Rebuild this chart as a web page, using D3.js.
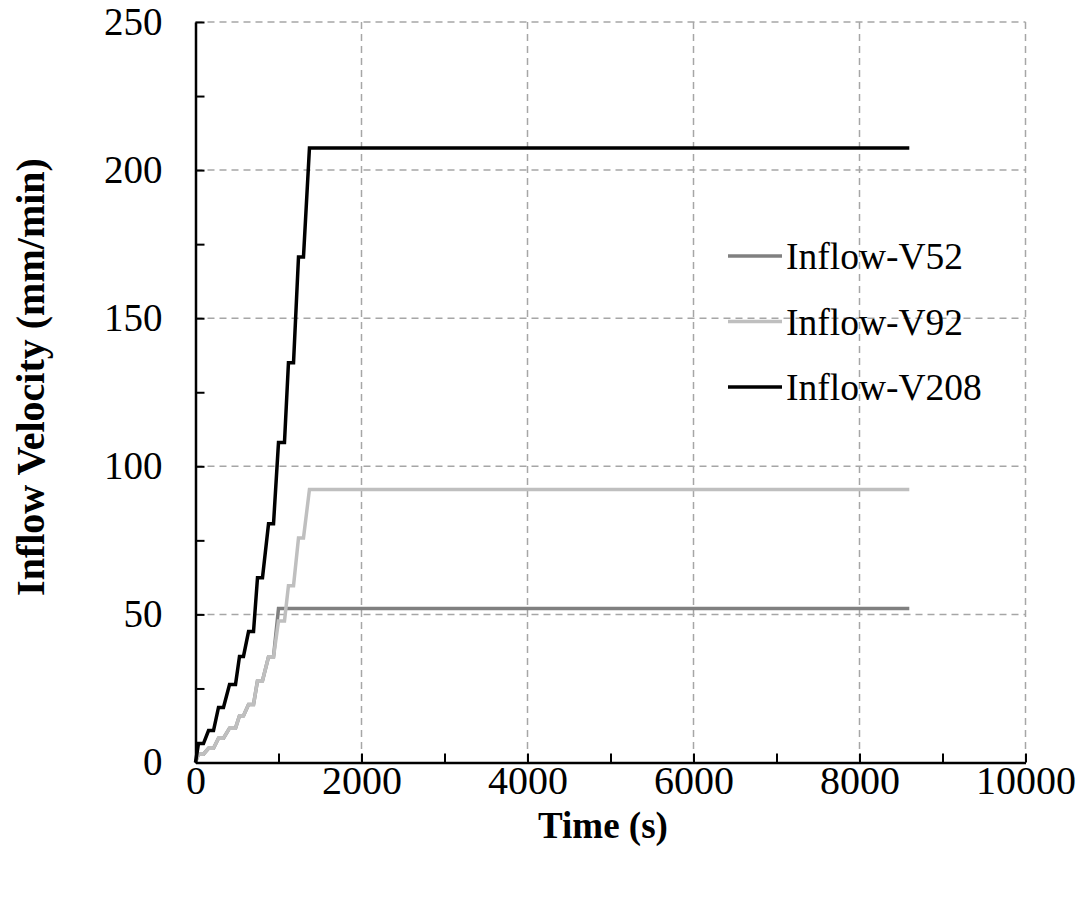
<!DOCTYPE html>
<html><head><meta charset="utf-8">
<script src="https://cdn.jsdelivr.net/npm/d3@7"></script>
<style>body{margin:0;background:#fff}svg text{font-family:"Liberation Serif","Times New Roman",serif}</style>
</head><body>
<svg id="chart" width="1081" height="905"></svg>
<script>
// Data (time in s, velocity in mm/min)
const timeV208 = [0, 36, 96, 157, 217, 277, 337, 410, 482, 530, 578, 639, 699, 747, 807, 880, 940, 1000, 1072, 1120, 1181, 1241, 1301, 1373, 8600];
const valV208  = [0, 6.4, 6.4, 10.8, 10.8, 18.6, 18.6, 26.3, 26.3, 35.8, 35.8, 44.2, 44.2, 62.4, 62.4, 80.6, 80.6, 108, 108, 135, 135, 170.7, 170.7, 207.5, 207.5];
const timeV92  = [0, 36, 96, 157, 217, 277, 337, 410, 482, 530, 578, 639, 699, 747, 807, 880, 940, 1000, 1072, 1120, 1181, 1241, 1301, 1373, 8600];
const valV92   = [0, 2.8, 2.8, 4.8, 4.8, 8.2, 8.2, 11.6, 11.6, 15.8, 15.8, 19.6, 19.6, 27.6, 27.6, 35.7, 35.7, 47.8, 47.8, 59.7, 59.7, 75.8, 75.8, 92.2, 92.2];
const timeV52  = [0, 36, 96, 157, 217, 277, 337, 410, 482, 530, 578, 639, 699, 747, 807, 880, 940, 1000, 8600];
const valV52   = [0, 2.8, 2.8, 4.8, 4.8, 8.2, 8.2, 11.6, 11.6, 15.8, 15.8, 19.6, 19.6, 27.6, 27.6, 35.7, 35.7, 52, 52];
const seriesNames = ["Inflow-V52", "Inflow-V92", "Inflow-V208"];
const xTicks = [0, 2000, 4000, 6000, 8000, 10000];
const yTicks = [0, 50, 100, 150, 200, 250];

const series = [
  {name: seriesNames[0], t: timeV52, v: valV52, color: "#808080"},
  {name: seriesNames[1], t: timeV92, v: valV92, color: "#bfbfbf"},
  {name: seriesNames[2], t: timeV208, v: valV208, color: "#000000"}
];

const FONT = "Liberation Serif";
const svg = d3.select("#chart");
const L = 195.5, T = 22, R = 1025.5, B = 762.5;
const x = d3.scaleLinear().domain([0, 10000]).range([L, R]);
const y = d3.scaleLinear().domain([0, 250]).range([B, T]);

// grid
const grid = svg.append("g").attr("stroke", "#a6a6a6").attr("stroke-width", 1.5).attr("stroke-dasharray", "7,5");
grid.selectAll("line.h").data(yTicks.filter(d => d > 0)).join("line")
  .attr("x1", L).attr("x2", R).attr("y1", d => y(d)).attr("y2", d => y(d));
grid.selectAll("line.v").data(xTicks.filter(d => d > 0)).join("line")
  .attr("y1", T).attr("y2", B).attr("x1", d => x(d)).attr("x2", d => x(d));

// lines
const line = d3.line().x(d => x(d[0])).y(d => y(d[1]));
svg.append("g").selectAll("path").data(series).join("path")
  .attr("d", s => line(s.t.map((t, i) => [t, s.v[i]])))
  .attr("fill", "none").attr("stroke", s => s.color).attr("stroke-width", 3.5)
  .attr("stroke-linejoin", "miter");

// axes
const xAxis = d3.axisBottom(x).tickValues(d3.range(0, 10001, 1000)).tickSizeInner(-9).tickSizeOuter(0)
  .tickFormat(d => xTicks.includes(d) ? d : "").tickPadding(3);
const gx = svg.append("g").attr("transform", `translate(0,${B})`).call(xAxis).attr("font-family", FONT);
gx.select(".domain").attr("stroke", "#000").attr("stroke-width", 2.5);
gx.selectAll(".tick line").attr("stroke", "#000").attr("stroke-width", 2);
gx.selectAll(".tick text").attr("font-size", 40).attr("fill", "#000").attr("font-family", FONT);

const yAxis = d3.axisLeft(y).tickValues(d3.range(0, 251, 25)).tickSizeInner(-9).tickSizeOuter(0)
  .tickFormat(d => yTicks.includes(d) ? d : "").tickPadding(33);
const gy = svg.append("g").attr("transform", `translate(${L},0)`).call(yAxis).attr("font-family", FONT);
gy.select(".domain").attr("stroke", "#000").attr("stroke-width", 2.5);
gy.selectAll(".tick line").attr("stroke", "#000").attr("stroke-width", 2);
gy.selectAll(".tick text").attr("font-size", 39).attr("fill", "#000").attr("font-family", FONT);

// titles
svg.append("text").attr("x", 603).attr("y", 838).attr("text-anchor", "middle").attr("font-family", FONT)
  .attr("font-size", 37).attr("font-weight", "bold").text("Time (s)");
svg.append("text").attr("transform", `translate(44,377) rotate(-90)`).attr("text-anchor", "middle").attr("font-family", FONT)
  .attr("font-size", 40).attr("font-weight", "bold").text("Inflow Velocity (mm/min)");

// legend
const lg = svg.append("g");
series.forEach((s, i) => {
  const yy = 256 + i * 65.5;
  lg.append("line").attr("x1", 728).attr("x2", 782).attr("y1", yy).attr("y2", yy)
    .attr("stroke", s.color).attr("stroke-width", 3.5);
  lg.append("text").attr("x", 786).attr("y", yy + 13).attr("font-size", 37.5).attr("font-family", FONT).text(s.name);
});
</script>
</body></html>
